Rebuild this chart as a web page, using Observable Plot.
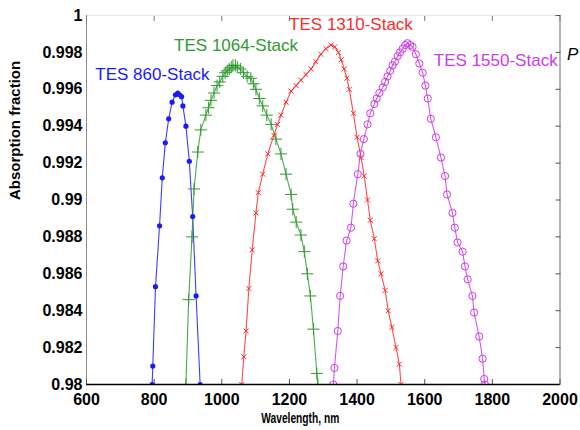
<!DOCTYPE html>
<html><head><meta charset="utf-8">
<script src="https://cdn.jsdelivr.net/npm/d3@7"></script>
<script src="https://cdn.jsdelivr.net/npm/@observablehq/plot@0.6"></script>
<style>body{margin:0;background:#fff;} #chart svg{display:block}</style>
</head><body><div id="chart"></div>
<script>
// ---- data ----
const xTicks = [600, 800, 1000, 1200, 1400, 1600, 1800, 2000];
const xTickLabels = ["600", "800", "1000", "1200", "1400", "1600", "1800", "2000"];
const yTicks = [0.98, 0.982, 0.984, 0.986, 0.988, 0.99, 0.992, 0.994, 0.996, 0.998, 1];
const yTickLabels = ["0.98", "0.982", "0.984", "0.986", "0.988", "0.99", "0.992", "0.994", "0.996", "0.998", "1"];
const seriesNames = ["TES 860-Stack", "TES 1064-Stack", "TES 1310-Stack", "TES 1550-Stack"];
const seriesColors = ["#1a1aff", "#2f9a2f", "#ff2a2a", "#cc3be8"];

const w860 = [794, 796, 804, 816, 824, 833, 843, 853, 863, 870, 875, 881, 885, 894, 904, 914, 924, 936];
const a860 = [0.9800, 0.9810, 0.9853, 0.9886, 0.9912, 0.9931, 0.9944, 0.9953, 0.9957, 0.9958, 0.9957, 0.9956, 0.9951, 0.9940, 0.9921, 0.9891, 0.9848, 0.9800];

const w1064 = [894, 902, 912, 918, 929, 938, 953, 961, 968, 977, 986, 994, 1003, 1010, 1016, 1022, 1028, 1033, 1040, 1046, 1055, 1064, 1075, 1086, 1094, 1101, 1111, 1121, 1133, 1146, 1160, 1175, 1190, 1205, 1210, 1220, 1234, 1244, 1253, 1262, 1271, 1281, 1284];
const a1064 = [0.9800, 0.9846, 0.9880, 0.9906, 0.9926, 0.9938, 0.9946, 0.9950, 0.9954, 0.9958, 0.9962, 0.9964, 0.9967, 0.9969, 0.9970, 0.9971, 0.9972, 0.9973, 0.9973, 0.9972, 0.9971, 0.9969, 0.9967, 0.9966, 0.9963, 0.9960, 0.9955, 0.9951, 0.9946, 0.9941, 0.9933, 0.9925, 0.9914, 0.9903, 0.9895, 0.9888, 0.9881, 0.9872, 0.9860, 0.9848, 0.9830, 0.9806, 0.9800];

const w1310 = [1059, 1065, 1072, 1080, 1090, 1101, 1108, 1121, 1136, 1154, 1165, 1175, 1190, 1205, 1220, 1234, 1249, 1264, 1278, 1293, 1308, 1323, 1334, 1345, 1353, 1362, 1370, 1377, 1389, 1400, 1412, 1421, 1431, 1439, 1451, 1461, 1471, 1483, 1492, 1503, 1515, 1525, 1530];
const a1310 = [0.9800, 0.9815, 0.9829, 0.9852, 0.9873, 0.9893, 0.9904, 0.9914, 0.9925, 0.9935, 0.9941, 0.9946, 0.9953, 0.9959, 0.9962, 0.9965, 0.9968, 0.9971, 0.9975, 0.9979, 0.9982, 0.9984, 0.9983, 0.9980, 0.9976, 0.9971, 0.9966, 0.9960, 0.9947, 0.9934, 0.9923, 0.9913, 0.9900, 0.9889, 0.9879, 0.9867, 0.9860, 0.9851, 0.9840, 0.9831, 0.9820, 0.9811, 0.9800];

const w1550 = [1330, 1333, 1343, 1350, 1359, 1369, 1382, 1389, 1402, 1410, 1420, 1431, 1439, 1451, 1458, 1466, 1476, 1483, 1490, 1498, 1505, 1512, 1520, 1527, 1535, 1542, 1549, 1557, 1564, 1574, 1584, 1594, 1602, 1609, 1618, 1633, 1648, 1660, 1666, 1682, 1689, 1697, 1712, 1719, 1727, 1741, 1746, 1761, 1771, 1776, 1778];
const a1550 = [0.9800, 0.9809, 0.9829, 0.9848, 0.9864, 0.9878, 0.9885, 0.9898, 0.9914, 0.9925, 0.9933, 0.9941, 0.9947, 0.9952, 0.9955, 0.9958, 0.9961, 0.9964, 0.9967, 0.9970, 0.9973, 0.9975, 0.9978, 0.9980, 0.9982, 0.9984, 0.9985, 0.9984, 0.9983, 0.9979, 0.9974, 0.9969, 0.9962, 0.9955, 0.9944, 0.9934, 0.9923, 0.9913, 0.9903, 0.9893, 0.9885, 0.9877, 0.9872, 0.9864, 0.9857, 0.9848, 0.9839, 0.9826, 0.9814, 0.9803, 0.9800];

// label anchor points (data units)
const labelW = [626, 859, 1199, 1627];
const labelA = [0.99678, 0.99839, 0.99953, 0.99758];

// ---- build tables ----
const waves = [w860, w1064, w1310, w1550];
const absorb = [a860, a1064, a1310, a1550];
const rows = [];
seriesNames.forEach((name, i) => waves[i].forEach((w, j) => rows.push({series: name, w, a: absorb[i][j]})));
const bySeries = name => rows.filter(r => r.series === name);
const labels = seriesNames.map((name, i) => ({series: name, w: labelW[i], a: labelA[i]}));

const FONT = "'Liberation Sans', Arial, Helvetica, sans-serif";

const plot = Plot.plot({
  width: 580, height: 430,
  marginLeft: 86, marginRight: 20.5, marginTop: 15, marginBottom: 46,
  style: {fontFamily: FONT, background: "#fff", color: "#000", overflow: "visible"},
  x: {domain: [600, 2000]},
  y: {domain: [0.98, 1]},
  color: {domain: seriesNames, range: seriesColors},
  marks: [
    Plot.ruleY([1], {stroke: "#e2e2e2"}),
    Plot.ruleX([600], {stroke: "#8a8a8a"}),
    Plot.ruleX([2000], {stroke: "#6a6a6a"}),
    Plot.axisX({anchor: "top", ticks: xTicks, tickSize: -5, tickFormat: () => "", label: null, stroke: "#777"}),
    Plot.axisY({anchor: "right", ticks: yTicks, tickSize: -5, tickFormat: () => "", label: null, stroke: "#555"}),
    Plot.axisX({anchor: "bottom", ticks: xTicks, tickSize: -5, tickPadding: 14, fontSize: 16, fontWeight: "bold", label: null, stroke: "#555",
      tickFormat: d => xTickLabels[xTicks.indexOf(d)]}),
    Plot.axisY({anchor: "left", ticks: yTicks, tickSize: 0, tickPadding: 4, fontSize: 16, fontWeight: "bold", label: null,
      tickFormat: d => yTickLabels[yTicks.indexOf(d)]}),
    Plot.line(rows, {x: "w", y: "a", z: "series", stroke: "series", strokeWidth: 1.1, strokeOpacity: 0.85, clip: true}),
    Plot.dot(bySeries(seriesNames[0]), {x: "w", y: "a", r: 2.6, fill: seriesColors[0], stroke: "none", clip: true}),
    Plot.dot(bySeries(seriesNames[1]), {x: "w", y: "a", r: 4, symbol: "plus", stroke: seriesColors[1], strokeWidth: 1, clip: true}),
    Plot.dot(bySeries(seriesNames[2]), {x: "w", y: "a", r: 2.4, symbol: "times", stroke: seriesColors[2], strokeWidth: 1, clip: true}),
    Plot.dot(bySeries(seriesNames[3]), {x: "w", y: "a", r: 3.6, symbol: "circle", fill: "none", stroke: seriesColors[3], strokeWidth: 1, clip: true}),
    Plot.ruleY([0.98], {stroke: "#000", strokeWidth: 1.5}),
    Plot.text(labels, {x: "w", y: "a", text: "series", fill: "series", textAnchor: "start", fontSize: 17}),
    Plot.text(["Wavelength, nm"], {frameAnchor: "bottom", dx: -23, dy: 38, fontSize: 15, fontWeight: "bold"}),
    Plot.text(["Absorption fraction"], {frameAnchor: "left", dx: -71, rotate: -90, fontSize: 15, fontWeight: "bold"}),
    Plot.text(["P"], {frameAnchor: "top-right", dx: 7, dy: 32, textAnchor: "start", fontSize: 17, fontStyle: "italic"})
  ]
});
document.getElementById("chart").appendChild(plot);
d3.select(plot).selectAll("text").filter(function() { return this.textContent === "Wavelength, nm"; })
  .attr("textLength", 78).attr("lengthAdjust", "spacingAndGlyphs");
</script>
</body></html>
